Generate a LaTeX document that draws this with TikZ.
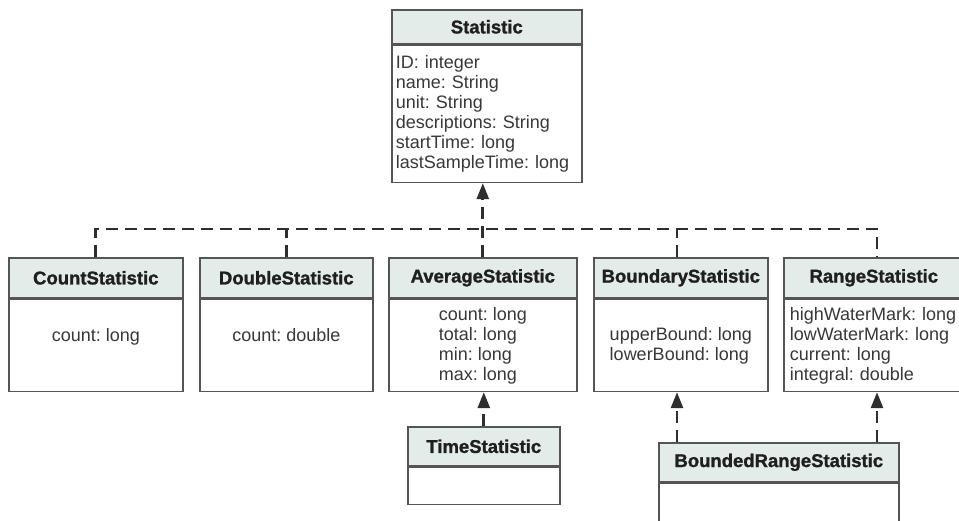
\documentclass[tikz,border=0pt]{standalone}
\usepackage{fontspec}
\setmainfont{Liberation Sans}
\newfontfamily\hdrfont[BoldFeatures={FakeBold=1.3}]{Liberation Sans}
\usetikzlibrary{arrows.meta,calc}
\definecolor{hdrfill}{HTML}{E4ECEA}
\definecolor{boxline}{HTML}{555555}
\definecolor{depline}{HTML}{2E2E2E}
\tikzset{
  hdr/.style={draw=boxline, line width=1.6pt, fill=hdrfill, anchor=north west, inner sep=0pt,
    font=\hdrfont\fontsize{18.5}{20}\selectfont\bfseries, text=black!88},
  bdy/.style={draw=boxline, line width=1.6pt, fill=white, anchor=north, inner sep=0pt, align=left,
    font=\fontsize{18}{20}\selectfont, text=black!78},
  dep/.style={draw=depline, line width=2.8pt, dash pattern=on 12pt off 7pt},
  arr/.style={-{Triangle[length=16pt,width=12pt]}}
}
\begin{document}
\frenchspacing
\begin{tikzpicture}[x=1pt,y=-1pt]
\useasboundingbox (0,0) rectangle (959,521);
\clip (0,0) rectangle (959,521);
% Statistic
\node[hdr, minimum width=190, minimum height=34] (st) at (391,9) {Statistic};
\node[bdy, minimum width=190, minimum height=137, text width=182, inner xsep=4pt] (stb) at (st.south)
  {ID: integer\\name: String\\unit: String\\descriptions: String\\startTime: long\\lastSampleTime: long};
% Count
\node[hdr, minimum width=174, minimum height=40] (cs) at (8,257) {CountStatistic};
\node[bdy, minimum width=174, minimum height=92, text depth=20pt] (csb) at (cs.south) {count: long};
% Double
\node[hdr, minimum width=173, minimum height=40] (ds) at (199,257) {DoubleStatistic};
\node[bdy, minimum width=173, minimum height=92, text depth=20pt] (dsb) at (ds.south) {count: double};
% Average
\node[hdr, minimum width=188, minimum height=40] (avg) at (388,257) {AverageStatistic};
\node[bdy, minimum width=188, minimum height=92] (avgb) at (avg.south) {count: long\\total: long\\min: long\\max: long};
% Boundary
\node[hdr, minimum width=174, minimum height=40] (bs) at (593,257) {BoundaryStatistic};
\node[bdy, minimum width=174, minimum height=92] (bsb) at (bs.south) {upperBound: long\\lowerBound: long};
% Range
\node[hdr, minimum width=180, minimum height=40] (rs) at (783,257) {RangeStatistic};
\node[bdy, minimum height=92, text width=180, inner xsep=6pt, anchor=north west] (rsb) at (rs.south west)
  {highWaterMark: long\\lowWaterMark: long\\current: long\\integral: double};
% Time
\node[hdr, minimum width=152, minimum height=39] (ts) at (407,426) {TimeStatistic};
\node[bdy, minimum width=152, minimum height=37] (tsb) at (ts.south) {};
% BoundedRange
\node[hdr, minimum width=240, minimum height=39] (brs) at (658,442) {BoundedRangeStatistic};
\node[bdy, minimum width=240, minimum height=80] (brsb) at (brs.south) {};
% connector taps
\coordinate (busy) at (0,229);
\coordinate (btap) at ($(bs.north west)+(84,0)$);
\coordinate (rtap) at ($(rs.north west)+(94,0)$);
% connectors
\draw[dep] (cs.north) |- (rtap |- busy) -- (rtap);
\draw[dep] (ds.north) -- (ds.north |- busy);
\draw[dep] (btap) -- (btap |- busy);
\draw[dep, arr] (avg.north) -- (avg.north |- stb.south);
\draw[dep, arr] (ts.north) -- (ts.north |- avgb.south);
\draw[dep, arr] (btap |- brs.north) -- (btap |- bsb.south);
\draw[dep, arr] (rtap |- brs.north) -- (rtap |- rsb.south);
\end{tikzpicture}
\end{document}
